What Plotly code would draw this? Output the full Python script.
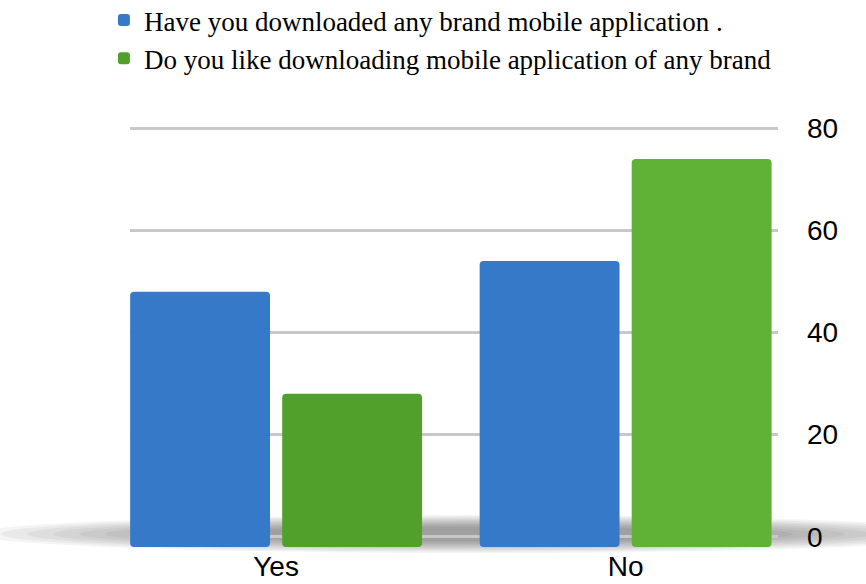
import plotly.graph_objects as go

# Survey answers (percent of respondents)
categories = ["Yes", "No"]
downloaded_app = [48, 54]
likes_downloading = [28, 74]
series_names = [
    "Have you downloaded any brand mobile application .",
    "Do you like downloading mobile application of any brand",
]
y_ticks = [0, 20, 40, 60, 80]

W, H = 866, 584
PLOT_L, PLOT_R, PLOT_T, PLOT_B = 130, 778, 100, 547   # plot area in pixels
PX_PER_UNIT = 5.105
ZERO_PX = 536.7
Y_RANGE = [-(PLOT_B - ZERO_PX) / PX_PER_UNIT, (ZERO_PX - PLOT_T) / PX_PER_UNIT]
BAR_FLOOR = Y_RANGE[0]   # bars rest on the floor below the zero line

BLUE = "#3679c9"
GREENS = ["#52a02c", "#5fb236"]

fig = go.Figure()
fig.add_trace(go.Bar(
    name=series_names[0], x=categories, y=[v - BAR_FLOOR for v in downloaded_app],
    base=BAR_FLOOR, marker=dict(color=BLUE, cornerradius=4, line=dict(width=0)),
    customdata=downloaded_app, hovertemplate="%{x}: %{customdata}<extra></extra>",
))
fig.add_trace(go.Bar(
    name=series_names[1], x=categories, y=[v - BAR_FLOOR for v in likes_downloading],
    base=BAR_FLOOR, marker=dict(color=GREENS, cornerradius=4, line=dict(width=0)),
    customdata=likes_downloading, hovertemplate="%{x}: %{customdata}<extra></extra>",
))

# soft floor shadow under the bars, built from stacked translucent ellipses
def px_x(p):
    return (p - PLOT_L) / (PLOT_R - PLOT_L)

def px_y(p):
    return (PLOT_B - p) / (PLOT_B - PLOT_T)

shapes = []
cx, cy = 475, 534
n = 10
for i in range(n):
    rx = 500 - i * 26
    ry = 19 - i * 1.3
    shapes.append(dict(
        type="circle", xref="paper", yref="paper", layer="below",
        x0=px_x(cx - rx), x1=px_x(cx + rx), y0=px_y(cy + ry), y1=px_y(cy - ry),
        fillcolor="rgba(0,0,0,0.042)", line=dict(width=0),
    ))

AXIS_FONT = dict(family="Liberation Sans Narrow, Arial Narrow, Liberation Sans, sans-serif",
                 size=28, color="black")

fig.update_layout(
    width=W, height=H,
    margin=dict(l=PLOT_L, r=W - PLOT_R, t=PLOT_T, b=H - PLOT_B, pad=0, autoexpand=False),
    paper_bgcolor="white", plot_bgcolor="rgba(0,0,0,0)",
    barmode="group", bargap=0.13, bargroupgap=0.08,
    shapes=shapes,
    showlegend=True,
    legend=dict(
        xref="container", yref="paper", x=0.12, y=px_y(-4),
        xanchor="left", yanchor="top", orientation="v",
        font=dict(family="Liberation Serif, Times New Roman, serif", size=27, color="black"),
        bgcolor="rgba(0,0,0,0)", traceorder="normal",
    ),
    xaxis=dict(
        type="category", range=[-0.418, 1.436], showgrid=False, zeroline=False,
        showline=False, ticks="", tickangle=0, tickfont=AXIS_FONT,
    ),
    yaxis=dict(
        side="right", range=Y_RANGE, tickvals=y_ticks, ticktext=[str(v) for v in y_ticks],
        showgrid=True, gridcolor="#c8c8c8", gridwidth=3, zeroline=False,
        showline=False, ticks="", ticklabelstandoff=28, tickfont=AXIS_FONT,
    ),
    font=dict(family="Liberation Sans, Arial, sans-serif", color="black"),
)

fig.write_html("out.html")
